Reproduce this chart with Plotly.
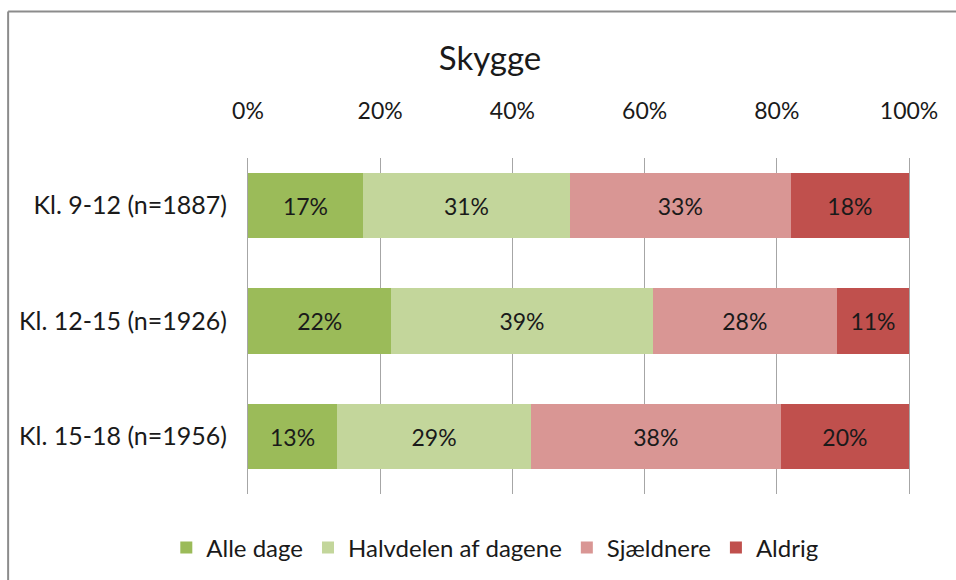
import plotly.graph_objects as go

categories = ["Kl. 9-12 (n=1887)", "Kl. 12-15 (n=1926)", "Kl. 15-18 (n=1956)"]
series_names = ["Alle dage", "Halvdelen af dagene", "Sjældnere", "Aldrig"]
alle_dage = [17.4, 21.7, 13.5]
halvdelen = [31.3, 39.5, 29.3]
sjaeldnere = [33.4, 27.9, 37.8]
aldrig = [17.9, 10.9, 19.4]
label_alle = ["17%", "22%", "13%"]
label_halv = ["31%", "39%", "29%"]
label_sjael = ["33%", "28%", "38%"]
label_aldrig = ["18%", "11%", "20%"]
colors = ["#9BBB59", "#C3D69B", "#D99694", "#C0504D"]
tick_vals = [0, 20, 40, 60, 80, 100]
tick_text = ["0%", "20%", "40%", "60%", "80%", "100%"]

FONT = "Lato, Open Sans, sans-serif"
TXT = "#1a1a1a"

fig = go.Figure()
for name, vals, labels, col in zip(series_names,
                                   [alle_dage, halvdelen, sjaeldnere, aldrig],
                                   [label_alle, label_halv, label_sjael, label_aldrig],
                                   colors):
    fig.add_trace(go.Bar(
        y=categories, x=vals, name=name, orientation="h",
        marker=dict(color=col, line=dict(width=0)),
        text=labels, textposition="inside", insidetextanchor="middle",
        textangle=0, constraintext="none",
        textfont=dict(family=FONT, size=23, color=TXT),
        hoverinfo="x+name",
    ))

W, H = 956, 580
x0_px, x100_px = 248.0, 909.5
pad = 0.6
upx = (x100_px - x0_px) / 100.0
ml = x0_px - pad * upx
mr = W - (x100_px + pad * upx)
mt, mb = 158, 86
pw = W - ml - mr
ph = H - mt - mb
bx = (8 - ml) / pw
by = (H - mb - 11.5) / ph
band = 115.5
y_top = -(205.5 - mt) / band
y_bot = (H - mb - 205.5) / band

fig.update_layout(
    width=W, height=H,
    barmode="stack", bargap=0.437,
    plot_bgcolor="white", paper_bgcolor="white",
    margin=dict(l=ml, r=mr, t=mt, b=mb, autoexpand=False),
    title=dict(text="Skygge", x=490 / W, xanchor="center", xref="container",
               y=1 - 58 / H, yanchor="middle", yref="container",
               font=dict(family=FONT, size=33, color=TXT)),
    xaxis=dict(side="top", range=[-pad, 100 + pad], tickvals=tick_vals, ticktext=tick_text,
               showgrid=True, gridcolor="#A6A6A6", gridwidth=1,
               zeroline=True, zerolinecolor="#A6A6A6", zerolinewidth=1,
               showline=False, ticks="", tickangle=0,
               ticklabelstandoff=33, automargin=False,
               tickfont=dict(family=FONT, size=23, color=TXT)),
    yaxis=dict(range=[y_bot, y_top], showgrid=False, zeroline=False,
               showline=False, ticks="", ticklabelstandoff=16, automargin=False,
               tickfont=dict(family=FONT, size=25, color=TXT)),
    legend=dict(orientation="h", x=(495 - ml) / pw, xref="paper", xanchor="center",
                y=(H - mb - 548) / ph, yanchor="middle",
                font=dict(family=FONT, size=24, color=TXT),
                traceorder="normal", itemwidth=30),
    showlegend=True,
    shapes=[
        dict(type="line", xref="paper", yref="paper", x0=bx, x1=bx, y0=-1, y1=by,
             line=dict(color="#8C8C8C", width=2)),
        dict(type="line", xref="paper", yref="paper", x0=bx, x1=1.3, y0=by, y1=by,
             line=dict(color="#8C8C8C", width=2)),
    ],
)

fig.write_html("out.html", config={"displayModeBar": False},
               post_script="document.body.style.margin='0px';")
